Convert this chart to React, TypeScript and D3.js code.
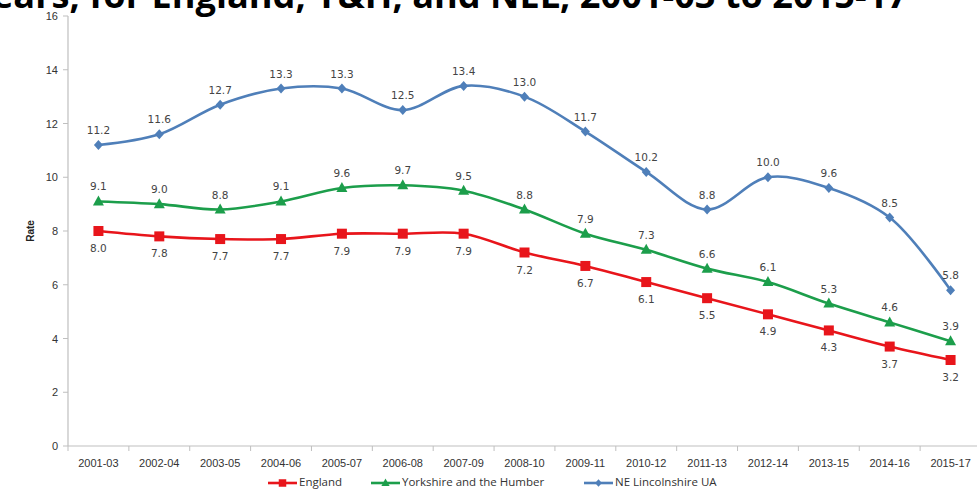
import React from "react";
import * as d3 from "d3";

const categories = ["2001-03","2002-04","2003-05","2004-06","2005-07","2006-08","2007-09","2008-10","2009-11","2010-12","2011-13","2012-14","2013-15","2014-16","2015-17"];
const england = [8.0,7.8,7.7,7.7,7.9,7.9,7.9,7.2,6.7,6.1,5.5,4.9,4.3,3.7,3.2];
const yorkshire = [9.1,9.0,8.8,9.1,9.6,9.7,9.5,8.8,7.9,7.3,6.6,6.1,5.3,4.6,3.9];
const neLincs = [11.2,11.6,12.7,13.3,13.3,12.5,13.4,13.0,11.7,10.2,8.8,10.0,9.6,8.5,5.8];
const yTicks = [0,2,4,6,8,10,12,14,16];
const titleText = "ears, for England, Y&H, and NEL, 2001-03 to 2015-17";

const W = 977, H = 489;
const X0 = 68, X1 = 981, Y0 = 446, Y1 = 16;

export default function App() {
  const x = d3.scaleBand<string>().domain(categories).range([X0, X1]);
  const cx = (c: string) => (x(c) as number) + x.bandwidth() / 2;
  const y = d3.scaleLinear().domain([0, 16]).range([Y0, Y1]);

  const line = d3.line<number>()
    .x((_, i) => cx(categories[i]))
    .y((v) => y(v))
    .curve(d3.curveCatmullRom.alpha(0.5));

  const series = [
    { name: "England", data: england, color: "#e8151b", marker: "square", labelDy: 21 },
    { name: "Yorkshire and the Humber", data: yorkshire, color: "#1c9e4b", marker: "triangle", labelDy: -11 },
    { name: "NE Lincolnshire UA", data: neLincs, color: "#4f7fb9", marker: "diamond", labelDy: -11 },
  ];

  const marker = (type: string, px: number, py: number, color: string, key: any, s = 1) => {
    if (type === "square") return <rect key={key} x={px - 5 * s} y={py - 5 * s} width={10 * s} height={10 * s} fill={color} />;
    if (type === "triangle") return <path key={key} d={`M${px},${py - 6 * s}L${px + 5.5 * s},${py + 4 * s}L${px - 5.5 * s},${py + 4 * s}Z`} fill={color} />;
    return <path key={key} d={`M${px},${py - 5 * s}L${px + 4.5 * s},${py}L${px},${py + 5 * s}L${px - 4.5 * s},${py}Z`} fill={color} />;
  };

  const legendItems = [
    { ...series[0], lx: 268 },
    { ...series[1], lx: 371 },
    { ...series[2], lx: 584 },
  ];

  return (
    <svg width={W} height={H} style={{ position: "absolute", left: 0, top: 0, background: "#fff" }}>
      <text x={-8} y={8} fontFamily="'Open Sans', 'Liberation Sans', sans-serif" fontWeight="bold" fontSize={36} fill="#000" textLength={916} lengthAdjust="spacingAndGlyphs">{titleText}</text>

      {/* axes */}
      <line x1={X0} x2={X0} y1={Y1} y2={Y0} stroke="#bfbfbf" strokeWidth={1.2} />
      <line x1={X0} x2={X1} y1={Y0} y2={Y0} stroke="#bfbfbf" strokeWidth={1.2} />
      {yTicks.map((t) => (
        <g key={t}>
          <line x1={X0 - 5} x2={X0} y1={y(t)} y2={y(t)} stroke="#bfbfbf" />
          <text x={X0 - 10} y={y(t) + 4} textAnchor="end" fontFamily="'Liberation Sans', sans-serif" fontSize={11} fill="#333">{t}</text>
        </g>
      ))}
      {categories.map((c) => (
        <g key={c}>
          <line x1={(x(c) as number)} x2={(x(c) as number)} y1={Y0} y2={Y0 + 5} stroke="#bfbfbf" />
          <text x={cx(c)} y={Y0 + 21} textAnchor="middle" fontFamily="'Liberation Sans', sans-serif" fontSize={11} fill="#333">{c}</text>
        </g>
      ))}
      <text transform={`translate(34,${y(8)}) rotate(-90)`} textAnchor="middle" fontFamily="'Liberation Sans', sans-serif" fontWeight="bold" fontSize={10} fill="#222">Rate</text>

      {series.map((s) => (
        <g key={s.name}>
          <path d={line(s.data) || ""} fill="none" stroke={s.color} strokeWidth={2.6} />
          {s.data.map((v, i) => marker(s.marker, cx(categories[i]), y(v), s.color, i))}
          {s.data.map((v, i) => (
            <text key={"l" + i} x={cx(categories[i])} y={y(v) + s.labelDy} textAnchor="middle" fontFamily="'DejaVu Sans', sans-serif" fontSize={10.5} fill="#444">{v.toFixed(1)}</text>
          ))}
        </g>
      ))}

      {legendItems.map((s) => (
        <g key={"lg" + s.name}>
          <line x1={s.lx} x2={s.lx + 29} y1={483} y2={483} stroke={s.color} strokeWidth={2.6} />
          {marker(s.marker, s.lx + 14.5, 483, s.color, "m", 0.75)}
          <text x={s.lx + 31} y={486} fontFamily="'Open Sans', sans-serif" fontSize={11.5} fill="#333">{s.name}</text>
        </g>
      ))}
    </svg>
  );
}
